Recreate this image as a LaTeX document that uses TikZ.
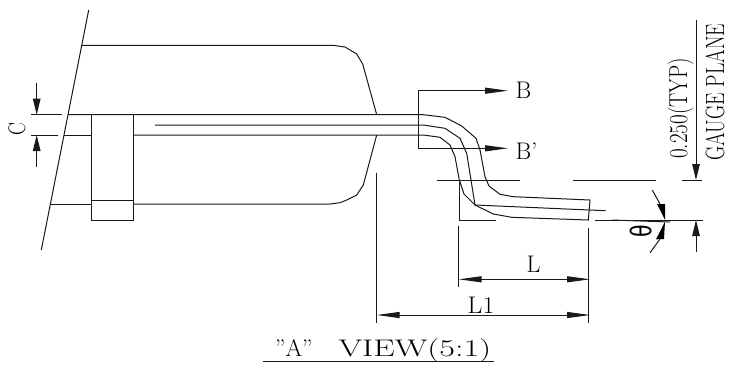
\documentclass[tikz,border=0pt]{standalone}
\usepackage{fontspec}
\newfontfamily\thetafont{Liberation Sans}
\usetikzlibrary{arrows.meta}
\tikzset{
  ln/.style={line width=1pt,black!90},
  hhead/.style={-{Triangle[length=23pt,width=6pt]}},
  hheadb/.style={{Triangle[length=23pt,width=6pt]}-{Triangle[length=23pt,width=6pt]}},
  vhead/.style={-{Triangle[length=16pt,width=7.5pt]}},
  lbl/.style={inner sep=0pt,font=\fontsize{24}{24}\selectfont}
}
\begin{document}
\begin{tikzpicture}[x=1pt,y=-1pt]
\useasboundingbox[fill=white] (0,0) rectangle (735,365);
% break line
\coordinate (brA) at (88.7,10); \coordinate (brB) at (41.3,250);
\draw[ln] (brA) -- (brB);
% body
\draw[ln] (82,45.3) -- (333,45.3) -- (345,47) -- (356.7,54) -- (362.7,64) -- (376.7,114.7);
\draw[ln] (51,204) -- (91.3,204);
\draw[ln] (133.7,204) -- (330,204) -- (340,202.7) -- (346.7,200) -- (356.7,195) -- (363.3,185) -- (376.7,135);
% lead
\draw[ln] (68,114.7) -- (423.3,114.7) -- (445,117.3) -- (461.7,126) -- (476,138.3) -- (480,150) -- (485,176.7) -- (489,186) -- (500,194.3) -- (513.3,196.7) -- (590,200) -- (588.3,220) -- (511.7,217.3) -- (493.3,214) -- (475,205) -- (464,194) -- (459.3,180) -- (455,156.7) -- (450,145) -- (440,137.3) -- (423.3,135) -- (133.7,135);
\draw[ln] (64,135) -- (91.3,135);
\draw[ln] (155,125) -- (423.3,125) -- (445,128.3) -- (460,138.3) -- (466.7,153.3) -- (475,205) -- (605.5,210.7);
% clamp
\draw[ln] (91.3,114.7) rectangle (133.7,220);
\draw[ln] (91.3,200) -- (133.7,200);
% C dimension
\coordinate (ca) at (36.7,83); \coordinate (cb) at (36.7,167);
\draw[ln] (31,114.7) -- (62,114.7);
\draw[ln] (31,135) -- (58,135);
\draw[ln,vhead] (ca) -- (36.7,114.7);
\draw[ln,vhead] (cb) -- (36.7,135);
\node[lbl,rotate=90,anchor=base] (c) at (25,129.5) {\scalebox{.8}[1]{C}};
% section arrows
\coordinate (bs) at (418.3,90.7); \coordinate (bt) at (508,90.7);
\coordinate (bm) at (418.3,148.3); \coordinate (bu) at (508,148.3);
\draw[ln,hhead] (bm) -- (bs) -- (bt);
\draw[ln,hhead] (bm) -- (bu);
\node[lbl,anchor=base west] (b) at (515.5,98.3) {B};
\node[lbl,anchor=base west] (bp) at (515.5,159.3) {B'};
% gauge plane lines
\draw[ln] (436.7,180) -- (520,180);
\draw[ln] (573,180) -- (655.7,180);
\draw[ln] (681.7,180) -- (702,180);
\draw[ln] (595,220) -- (703,220);
\draw[ln] (611.7,220) -- (670,222);
% extension
\draw[ln] (376.7,172.7) -- (376.7,322.7);
\draw[ln] (459,180) -- (459,220) -- (496,220);
\draw[ln] (458.7,225.7) -- (458.7,286.7);
\draw[ln] (588.3,228) -- (588.3,322.7);
% L dims
\coordinate (la) at (458.7,279.3); \coordinate (lb) at (590,279.3);
\draw[ln,hheadb] (la) -- (lb);
\node[lbl,anchor=base west] (l) at (526.5,272.7) {L};
\coordinate (lc) at (376.7,315); \coordinate (ld) at (590,315);
\draw[ln,hheadb] (lc) -- (ld);
\node[lbl,anchor=base west] (l1) at (467.5,313.5) {\scalebox{1.07}[1]{L1}};
% theta
\coordinate (ta) at (652.3,190); \coordinate (tb) at (650,252.7);
\draw[ln] (ta) -- (660,204);
\draw[ln] (tb) -- (660,239);
\fill[black] (665,220) -- (657,204) -- (665,204) -- cycle;
\fill[black] (665,221.7) -- (656,239.3) -- (664,239) -- cycle;
\node[inner sep=0pt,rotate=90,font=\thetafont\fontsize{30}{30}\selectfont] (th) at (640.7,231.3) {\scalebox{.75}[1]{θ}};
% gauge dim
\coordinate (ga) at (696,20); \coordinate (gb) at (696,251.7);
\draw[ln,vhead] (ga) -- (696,180);
\draw[ln,vhead] (gb) -- (696,220);
\node[lbl,rotate=90,anchor=base west] (typ) at (687,159) {\scalebox{.88}[1.08]{0.250(TYP)}};
\node[lbl,rotate=90,anchor=base west] (gp) at (724,161) {\scalebox{.82}[1.1]{GAUGE PLANE}};
% title
\node[lbl,anchor=base west] (title) at (275,356.7) {”A”\hspace{26pt}\scalebox{1.42}[1]{VIEW(5:1)}};
\coordinate (ua) at (263,361.7); \coordinate (ub) at (493.7,361.7);
\draw[ln] (ua) -- (ub);
\end{tikzpicture}
\end{document}
